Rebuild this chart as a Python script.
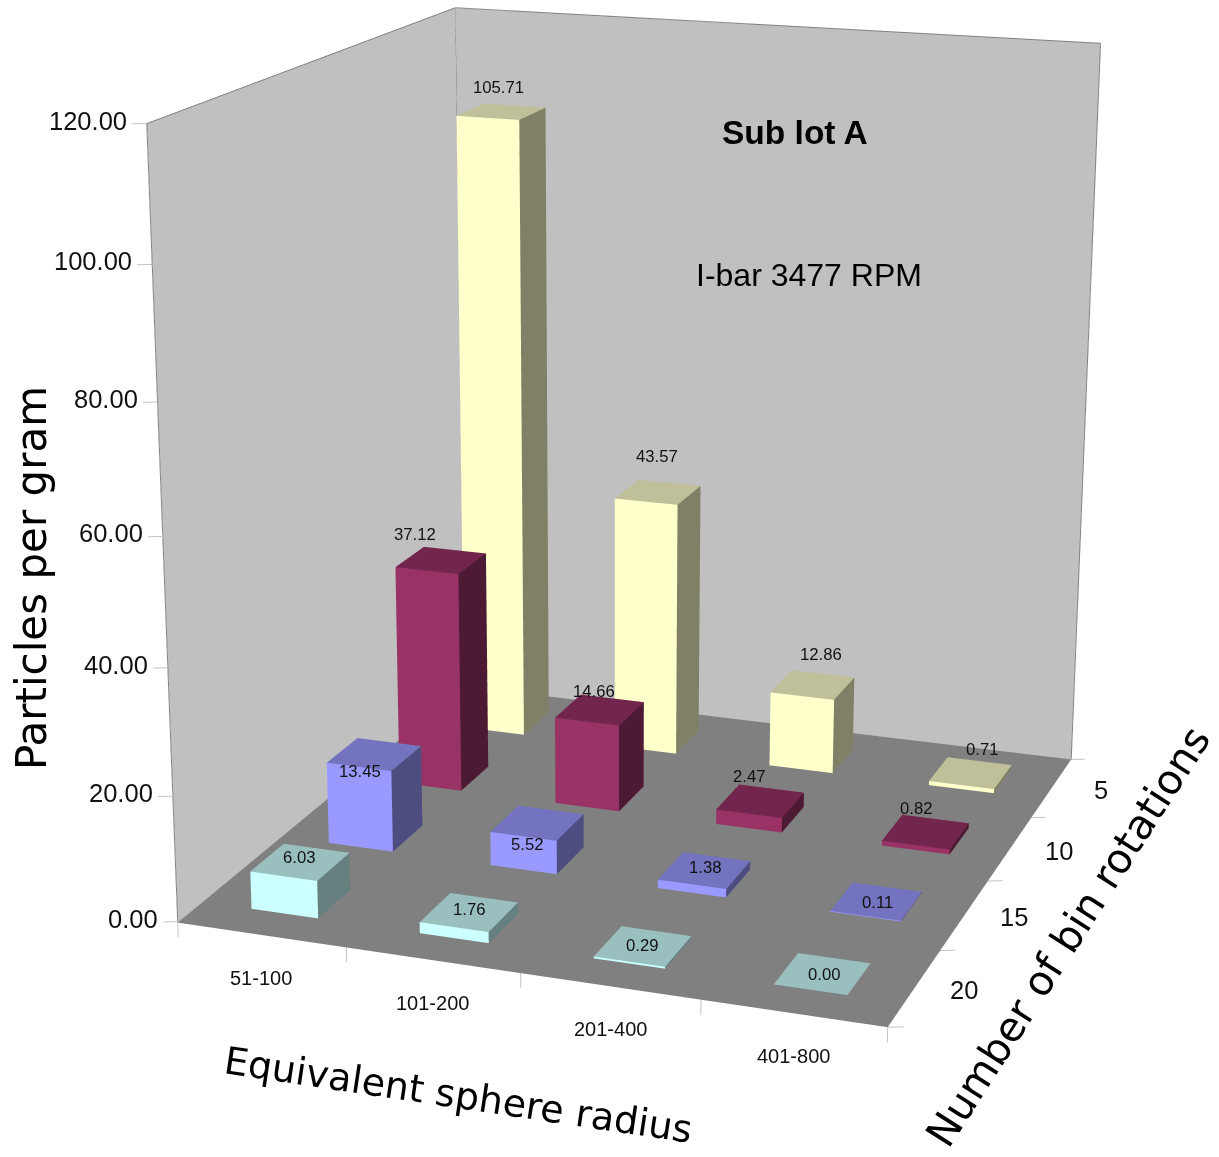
import numpy as np, plotly.graph_objects as go

# ---------- data ----------
CATEGORIES = ["51-100", "101-200", "201-400", "401-800"]
ROTATIONS = ["20", "15", "10", "5"]            # front to back
Z_TICKS = [0, 20, 40, 60, 80, 100, 120]
VALUES_20 = [6.03, 1.76, 0.29, 0.00]
VALUES_15 = [13.45, 5.52, 1.38, 0.11]
VALUES_10 = [37.12, 14.66, 2.47, 0.82]
VALUES_5 = [105.71, 43.57, 12.86, 0.71]
SERIES = [VALUES_20, VALUES_15, VALUES_10, VALUES_5]

# ---------- styles ----------
FRONT = ["#CCFFFF", "#9999FF", "#993366", "#FFFFCC"]
TOP = ["#99BFBF", "#7373BF", "#73264D", "#BFBF99"]
SIDE = ["#668080", "#4D4D80", "#4D1A33", "#808066"]
WALL, FLOOR, EDGE, TICK = "#C0C0C0", "#808080", "#808080", "#C4C4C4"
SANS, HAND = "Liberation Sans", "DejaVu Sans"
BAR_W, BAR_D = 0.40, 0.42
FLOOR_Z = -0.15

# page / view set-up (the large canvas gives the reference's long lens)
W, H, FIG_H = 1219, 1157, 3000
TOP_OFFSET = 921
EYE = np.array([1.912, -5.510, 1.651])
CEN = np.array([-0.0386, -0.1014, -0.1644])
ASP = np.array([1.1964, 1.2412, 1.3098])
UP = np.array([-0.0016, -0.0012, 1.0])
PAD_XY, PAD_Z = 0.2, 6.0
F = (FIG_H / 2) / np.tan(np.pi / 8)

def project(x, y, z):
    P = np.array([(x - 2) / 4, (y - 2) / 4, (z - 60) / 120]) * ASP - EYE
    fw = CEN - EYE; fw = fw / np.linalg.norm(fw)
    r = np.cross(fw, UP); r = r / np.linalg.norm(r)
    u = np.cross(r, fw)
    d = P @ fw
    return W / 2 + F * (P @ r) / d, FIG_H / 2 - TOP_OFFSET - F * (P @ u) / d

# label centres in page pixels, by row and category
LABEL_PX = [[(298, 857), (468, 909), (641, 946), (823, 975)],
            [(360, 771), (527, 844), (704, 868), (877, 903)],
            [(415, 534), (594, 691), (749, 777), (915, 809)],
            [(499, 87), (657, 457), (821, 655), (982, 750)]]

# ---------- meshes ----------
vx, vy, vz, fi, fj, fk, fc = [], [], [], [], [], [], []
def quad(pts, color):
    n = len(vx)
    for p in pts:
        vx.append(p[0]); vy.append(p[1]); vz.append(p[2])
    fi.extend([n, n]); fj.extend([n + 1, n + 2]); fk.extend([n + 2, n + 3]); fc.extend([color, color])

ZMAX = Z_TICKS[-1]
NX, NY = len(CATEGORIES), len(ROTATIONS)
quad([(0, 0, FLOOR_Z), (NX, 0, FLOOR_Z), (NX, NY, FLOOR_Z), (0, NY, FLOOR_Z)], FLOOR)
quad([(0, 0, FLOOR_Z), (0, NY, FLOOR_Z), (0, NY, ZMAX), (0, 0, ZMAX)], WALL)
quad([(0, NY, FLOOR_Z), (NX, NY, FLOOR_Z), (NX, NY, ZMAX), (0, NY, ZMAX)], WALL)

annos = []
for j, row in enumerate(SERIES):
    for i, val in enumerate(row):
        x0, x1 = i + 0.5 - BAR_W / 2, i + 0.5 + BAR_W / 2
        y0, y1 = j + 0.5 - BAR_D / 2, j + 0.5 + BAR_D / 2
        quad([(x0, y0, 0), (x1, y0, 0), (x1, y0, val), (x0, y0, val)], FRONT[j])
        quad([(x1, y0, 0), (x1, y1, 0), (x1, y1, val), (x1, y0, val)], SIDE[j])
        quad([(x0, y0, val), (x1, y0, val), (x1, y1, val), (x0, y1, val)], TOP[j])
        px, py = project(i + 0.5, j + 0.5, val)
        tx, ty = LABEL_PX[j][i]
        annos.append(dict(x=i + 0.5, y=j + 0.5, z=val, text=f"{val:.2f}", showarrow=False,
                          xshift=tx - px, yshift=py - ty, xanchor="center", yanchor="middle",
                          font=dict(family=SANS, size=16.7, color="#111111")))

fig = go.Figure()
fig.add_trace(go.Mesh3d(x=vx, y=vy, z=vz, i=fi, j=fj, k=fk, facecolor=fc, flatshading=True, hoverinfo="skip",
                        lighting=dict(ambient=1, diffuse=0, specular=0, roughness=1, fresnel=0)))

# wall edges
ex, ey, ez = [], [], []
for a, b in [((0, 0, ZMAX), (0, NY, ZMAX)), ((0, NY, ZMAX), (NX, NY, ZMAX)), ((0, 0, ZMAX), (0, 0, FLOOR_Z)),
             ((0, NY, ZMAX), (0, NY, FLOOR_Z)), ((NX, NY, ZMAX), (NX, NY, FLOOR_Z))]:
    ex += [a[0], b[0], None]; ey += [a[1], b[1], None]; ez += [a[2], b[2], None]
fig.add_trace(go.Scatter3d(x=ex, y=ey, z=ez, mode="lines", line=dict(color=EDGE, width=2), hoverinfo="skip"))

# tick marks
tx_, ty_, tz_ = [], [], []
for i in range(NX + 1):
    tx_ += [i, i, None]; ty_ += [0, 0, None]; tz_ += [FLOOR_Z, -2.5, None]
for j in range(NY + 1):
    tx_ += [NX, NX + 0.076, None]; ty_ += [j, j + 0.031, None]; tz_ += [FLOOR_Z, FLOOR_Z, None]
for z in Z_TICKS:
    tx_ += [0, -0.071, None]; ty_ += [0, -0.029, None]; tz_ += [z, z, None]
fig.add_trace(go.Scatter3d(x=tx_, y=ty_, z=tz_, mode="lines", line=dict(color=TICK, width=2), hoverinfo="skip"))

# tick labels
for z in Z_TICKS:
    annos.append(dict(x=0, y=0, z=z, text=f"{z:.2f}", showarrow=False, xanchor="right", yanchor="middle",
                      xshift=-18, yshift=3, font=dict(family=SANS, size=25.5, color="#111111")))
for i, c in enumerate(CATEGORIES):
    annos.append(dict(x=i + 0.5, y=0, z=0, text=c, showarrow=False, xanchor="center", yanchor="middle",
                      yshift=-44, font=dict(family=SANS, size=20, color="#111111")))
for j, r in enumerate(ROTATIONS):
    annos.append(dict(x=NX, y=j + 0.5, z=0, text=r, showarrow=False, xanchor="center", yanchor="middle",
                      xshift=49, yshift=-3, font=dict(family=SANS, size=25.5, color="#111111")))

def page(px, py, text, size, family=SANS, angle=0, bold=False):
    return dict(x=px / W, y=1 - (py + TOP_OFFSET) / FIG_H, xref="paper", yref="paper", text=f"<b>{text}</b>" if bold else text,
                showarrow=False, xanchor="center", yanchor="middle", textangle=angle,
                font=dict(family=family, size=size, color="#000000"))

fig.update_layout(
    width=W, height=FIG_H, margin=dict(l=0, r=0, t=0, b=0), showlegend=False, paper_bgcolor="white",
    annotations=[
        page(795, 132, "Sub lot A", 33.5, bold=True),
        page(809, 275, "I-bar 3477 RPM", 32),
        page(31, 578, "Particles per gram", 42, HAND, -90),
        page(458, 1095, "Equivalent sphere radius", 38, HAND, 8.5),
        page(1068, 937, "Number of bin rotations", 41, HAND, -57.4),
    ],
    scene=dict(
        domain=dict(x=[0, 1], y=[0, 1]), bgcolor="white", aspectmode="manual",
        aspectratio=dict(x=ASP[0] * (NX + 2 * PAD_XY) / NX, y=ASP[1] * (NY + 2 * PAD_XY) / NY, z=ASP[2] * (ZMAX + 2 * PAD_Z) / ZMAX),
        camera=dict(eye=dict(x=EYE[0], y=EYE[1], z=EYE[2]), center=dict(x=CEN[0], y=CEN[1], z=CEN[2]), up=dict(x=UP[0], y=UP[1], z=UP[2])),
        xaxis=dict(range=[-PAD_XY, NX + PAD_XY], visible=False),
        yaxis=dict(range=[-PAD_XY, NY + PAD_XY], visible=False),
        zaxis=dict(range=[-PAD_Z, ZMAX + PAD_Z], visible=False),
        annotations=annos,
    ),
)
post = ("document.documentElement.style.overflow='hidden';document.body.style.margin='0';"
        "document.body.style.overflow='hidden';document.body.style.height='%dpx';"
        "var g=document.querySelector('.plotly-graph-div');g.style.position='absolute';"
        "g.style.left='0';g.style.top='-%dpx';" % (H, TOP_OFFSET))
fig.write_html("out.html", config=dict(displayModeBar=False), post_script=post)
